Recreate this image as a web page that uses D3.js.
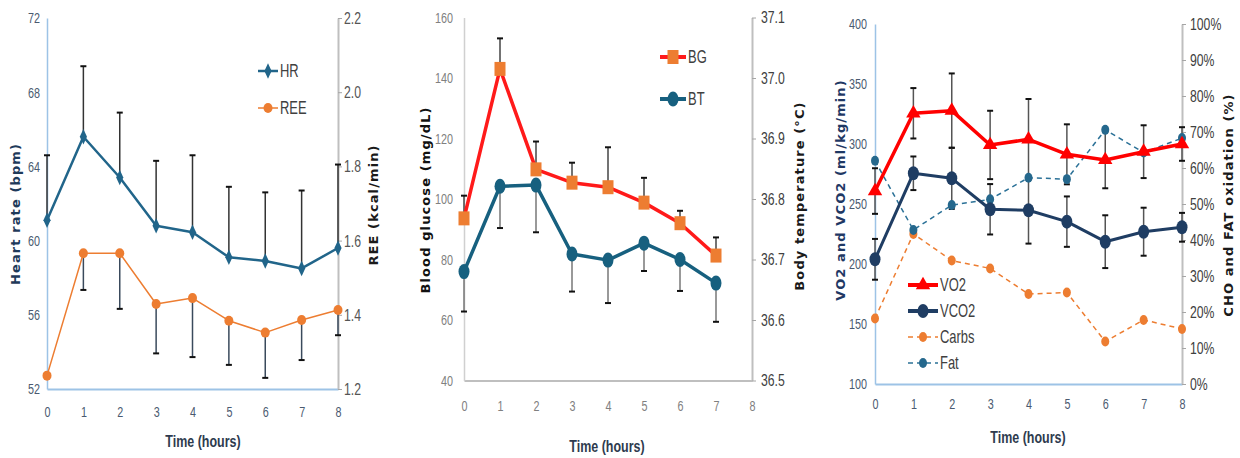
<!DOCTYPE html>
<html lang="en">
<head>
<meta charset="UTF-8" />
<title>Time course</title>
<script src="https://d3js.org/d3.v7.min.js"></script>
<style>
  body { margin: 0; background: #fff; }
  svg text { font-family: 'Liberation Sans', Arial, sans-serif; }
  svg text.ttl { font-family: 'DejaVu Sans', Verdana, sans-serif; font-weight: bold; font-size: 13px; letter-spacing: 1.1px; }
  svg text.xt { font-size: 16px; font-weight: bold; fill: #2e3b4e; }
</style>
</head>
<body>
<svg id="chart" width="1240" height="458"></svg>
<script>
const hours = [0, 1, 2, 3, 4, 5, 6, 7, 8];
const hoursBG = [0, 1, 2, 3, 4, 5, 6, 7];

// panel 1
const hr = [61.1, 65.6, 63.4, 60.8, 60.45, 59.1, 58.9, 58.5, 59.6];
const hrErr = [3.5, 3.8, 3.5, 3.5, 4.15, 3.8, 3.7, 4.2, 4.5];
const ree = [1.236, 1.566, 1.566, 1.429, 1.445, 1.384, 1.352, 1.386, 1.413];
const reeErr = [0, 0.099, 0.15, 0.133, 0.159, 0.119, 0.122, 0.108, 0.068];
const hrTicks = [52, 56, 60, 64, 68, 72];
const reeTicks = [1.2, 1.4, 1.6, 1.8, 2.0, 2.2];

// panel 2
const bg = [93.6, 143.0, 109.8, 105.4, 103.9, 98.8, 92.0, 81.3];
const bgErr = [7.5, 10.1, 9.2, 6.6, 13.2, 8.2, 4.1, 6.0];
const bt = [36.680, 36.821, 36.823, 36.709, 36.699, 36.727, 36.700, 36.661];
const btErr = [0.066, 0.069, 0.078, 0.062, 0.071, 0.046, 0.052, 0.064];
const bgTicks = [40, 60, 80, 100, 120, 140, 160];
const btTicks = [36.5, 36.6, 36.7, 36.8, 36.9, 37.0, 37.1];

// panel 3
const vo2 = [260.8, 325.6, 327.8, 299.2, 303.9, 291.4, 286.7, 293.6, 300.0];
const vo2Err = [19, 21, 31, 28.5, 33.6, 25, 23.6, 22, 14];
const vco2 = [203.9, 275.6, 271.4, 245.6, 244.8, 235.3, 218.6, 226.9, 230.6];
const vco2Err = [17, 14, 25.5, 21, 27.8, 21, 22, 20, 12];
const carbs = [0.182, 0.417, 0.343, 0.321, 0.250, 0.254, 0.118, 0.178, 0.153];
const fat = [0.620, 0.428, 0.497, 0.513, 0.573, 0.569, 0.706, 0.643, 0.683];
const vTicks = [100, 150, 200, 250, 300, 350, 400];
const pctTicks = [0, 0.1, 0.2, 0.3, 0.4, 0.5, 0.6, 0.7, 0.8, 0.9, 1.0];

const svg = d3.select("#chart");
const lightBlue = "#9dc3e6", gray = "#bfbfbf";

// squeeze text horizontally around its anchor (the source uses a narrow font)
function narrow(sel, k) {
  sel.each(function () {
    const t = d3.select(this);
    const x = +t.attr("x") || 0;
    const prev = t.attr("transform") || "";
    t.attr("transform", `${prev} translate(${x},0) scale(${k},1) translate(${-x},0)`);
  });
}

function makePanel(p) {
  const x = d3.scaleLinear().domain([0, 8]).range([p.x0, p.x1]);
  const yL = d3.scaleLinear().domain(p.leftDom).range([p.yB, p.yT]);
  const yR = d3.scaleLinear().domain(p.rightDom).range([p.yB, p.yT]);
  const g = svg.append("g");

  const ax = g.append("g").attr("transform", `translate(0,${p.yB})`)
    .call(d3.axisBottom(x).tickValues(hours).tickSize(0).tickPadding(p.xPad).tickSizeOuter(0));
  ax.select(".domain").attr("stroke", p.bottomColor).attr("stroke-width", 2);
  ax.selectAll("text").attr("font-size", 15).attr("fill", p.tickColor).call(narrow, 0.72);

  const al = g.append("g").attr("transform", `translate(${p.x0},0)`)
    .call(d3.axisLeft(yL).tickValues(p.leftTicks).tickSize(0).tickPadding(p.lPad).tickSizeOuter(0));
  al.select(".domain").attr("stroke", p.leftColor).attr("stroke-width", 1.5);
  al.selectAll("text").attr("font-size", 15).attr("fill", p.tickColor).call(narrow, 0.72);

  const ar = g.append("g").attr("transform", `translate(${p.x1},0)`)
    .call(d3.axisRight(yR).tickValues(p.rightTicks).tickFormat(p.rightFmt).tickSize(4).tickPadding(p.rPad).tickSizeOuter(0));
  ar.select(".domain").attr("stroke", gray).attr("stroke-width", 2);
  ar.selectAll("line").attr("stroke", "#a6a6a6");
  ar.selectAll("text").attr("font-size", 17).attr("fill", p.rTickColor || p.tickColor).call(narrow, 0.72);

  // titles
  g.append("text").attr("class", "ttl")
    .attr("transform", `translate(${p.lTitleX},${p.lTitleY}) rotate(-90)`)
    .attr("text-anchor", "middle").attr("fill", p.lTitleColor).text(p.lTitle);
  g.append("text").attr("class", "ttl")
    .attr("transform", `translate(${p.rTitleX},${p.rTitleY}) rotate(-90)`)
    .attr("text-anchor", "middle").attr("fill", "#1a1a1a").text(p.rTitle);
  g.append("text").attr("class", "xt")
    .attr("x", p.xtX).attr("y", p.xtY).attr("text-anchor", "middle").text("Time (hours)")
    .call(narrow, 0.78);

  return { g, x, yL, yR };
}

function errBars(g, x, y, xs, vals, errs, dir, color) {
  const eg = g.append("g").attr("stroke", color).attr("stroke-width", 1.5);
  xs.forEach((t, i) => {
    if (!errs[i]) return;
    const lo = dir === "down" || dir === "both" ? vals[i] - errs[i] : vals[i];
    const hi = dir === "up" || dir === "both" ? vals[i] + errs[i] : vals[i];
    eg.append("line").attr("x1", x(t)).attr("x2", x(t)).attr("y1", y(lo)).attr("y2", y(hi));
    if (dir !== "up") eg.append("line").attr("x1", x(t) - 3).attr("x2", x(t) + 3)
      .attr("y1", y(lo)).attr("y2", y(lo)).attr("stroke", "#111").attr("stroke-width", 2);
    if (dir !== "down") eg.append("line").attr("x1", x(t) - 3).attr("x2", x(t) + 3)
      .attr("y1", y(hi)).attr("y2", y(hi)).attr("stroke", "#111").attr("stroke-width", 2);
  });
}

function series(g, x, y, xs, vals, s) {
  const line = d3.line().x((d, i) => x(xs[i])).y(d => y(d));
  g.append("path").datum(vals).attr("fill", "none").attr("stroke", s.color)
    .attr("stroke-width", s.width).attr("stroke-dasharray", s.dash || null)
    .attr("stroke-linejoin", "round").attr("d", line);
  vals.forEach((v, i) => marker(g, x(xs[i]), y(v), s));
}

function marker(g, cx, cy, s) {
  if (s.shape === "ellipse") {
    g.append("ellipse").attr("cx", cx).attr("cy", cy).attr("rx", s.rx).attr("ry", s.ry).attr("fill", s.mColor || s.color);
  } else if (s.shape === "rect") {
    g.append("rect").attr("x", cx - s.w / 2).attr("y", cy - s.h / 2).attr("width", s.w).attr("height", s.h).attr("fill", s.mColor);
  } else {
    g.append("path").attr("transform", `translate(${cx},${cy}) scale(${s.sx || 1},1)`)
      .attr("d", d3.symbol().type(s.shape).size(s.size)).attr("fill", s.mColor || s.color);
  }
}

function legendItem(g, x0, x1, y, label, s) {
  g.append("line").attr("x1", x0).attr("x2", x1).attr("y1", y).attr("y2", y)
    .attr("stroke", s.color).attr("stroke-width", s.legW || s.width).attr("stroke-dasharray", s.dash || null);
  marker(g, (x0 + x1) / 2, y, s);
  g.append("text").attr("x", x1 + 2).attr("y", y).attr("dy", "0.35em")
    .attr("font-size", 18).attr("fill", "#404040").text(label).call(narrow, 0.72);
}

// ---- Panel 1: HR and REE
const p1 = makePanel({
  x0: 47, x1: 338, yT: 18, yB: 389, xPad: 17, lPad: 7, rPad: 2,
  leftDom: [52, 72], rightDom: [1.2, 2.2], leftTicks: hrTicks, rightTicks: reeTicks,
  rightFmt: d3.format(".1f"), tickColor: "#4a5a70", rTickColor: "#555",
  leftColor: lightBlue, bottomColor: lightBlue,
  lTitle: "Heart rate (bpm)", lTitleX: 20, lTitleY: 214, lTitleColor: "#1f3a5a",
  rTitle: "REE (kcal/min)", rTitleX: 378, rTitleY: 205, xtX: 203, xtY: 447
});
const hrS = { color: "#21658a", width: 2.5, shape: d3.symbolDiamond, size: 70, sx: 0.8 };
const reeS = { color: "#ed7d31", width: 1.5, shape: "ellipse", rx: 4.5, ry: 5 };
errBars(p1.g, p1.x, p1.yL, hours, hr, hrErr, "up", "#333");
errBars(p1.g, p1.x, p1.yR, hours, ree, reeErr, "down", "#3a4a5c");
series(p1.g, p1.x, p1.yL, hours, hr, hrS);
series(p1.g, p1.x, p1.yR, hours, ree, reeS);
legendItem(p1.g, 258, 278, 71, "HR", hrS);
legendItem(p1.g, 258, 278, 108, "REE", reeS);

// ---- Panel 2: BG and BT
const p2 = makePanel({
  x0: 464, x1: 752, yT: 17.5, yB: 380.5, xPad: 20, lPad: 11, rPad: 5,
  leftDom: [40, 160], rightDom: [36.5, 37.1], leftTicks: bgTicks, rightTicks: btTicks,
  rightFmt: d3.format(".1f"), tickColor: "#808080", rTickColor: "#404040",
  leftColor: "#d0d0d0", bottomColor: gray,
  lTitle: "Blood glucose (mg/dL)", lTitleX: 430, lTitleY: 200, lTitleColor: "#111",
  rTitle: "Body temperature (°C)", rTitleX: 804, rTitleY: 196, xtX: 607, xtY: 452
});
const bgS = { color: "#ff1a1a", width: 3.5, legW: 4, shape: "rect", w: 11, h: 14, mColor: "#ed7d31" };
const btS = { color: "#17607f", width: 3.5, legW: 4, shape: "ellipse", rx: 5.5, ry: 7.5 };
errBars(p2.g, p2.x, p2.yL, hoursBG, bg, bgErr, "up", "#444");
errBars(p2.g, p2.x, p2.yR, hoursBG, bt, btErr, "down", "#777");
series(p2.g, p2.x, p2.yL, hoursBG, bg, bgS);
series(p2.g, p2.x, p2.yR, hoursBG, bt, btS);
legendItem(p2.g, 660, 686, 57, "BG", bgS);
legendItem(p2.g, 660, 686, 99, "BT", btS);

// ---- Panel 3: VO2, VCO2, substrate oxidation
const p3 = makePanel({
  x0: 875, x1: 1182, yT: 24, yB: 384, xPad: 14, lPad: 8, rPad: 4,
  leftDom: [100, 400], rightDom: [0, 1], leftTicks: vTicks, rightTicks: pctTicks,
  rightFmt: d3.format(".0%"), tickColor: "#4a5a70", rTickColor: "#404040",
  leftColor: lightBlue, bottomColor: lightBlue,
  lTitle: "VO2 and VCO2 (ml/kg/min)", lTitleX: 845, lTitleY: 190, lTitleColor: "#1f3864",
  rTitle: "CHO and FAT oxidation (%)", rTitleX: 1233, rTitleY: 205, xtX: 1028, xtY: 443
});
const vo2S = { color: "#ff0000", width: 3.5, legW: 4, shape: d3.symbolTriangle, size: 90 };
const vco2S = { color: "#1f3d63", width: 3, legW: 4, shape: "ellipse", rx: 5.5, ry: 7 };
const carbS = { color: "#ed7d31", width: 1.5, dash: "5,4", shape: "ellipse", rx: 4, ry: 5 };
const fatS = { color: "#2b7197", width: 1.5, dash: "5,4", shape: "ellipse", rx: 4, ry: 5, mColor: "#25688d" };
errBars(p3.g, p3.x, p3.yL, hours, vo2, vo2Err, "both", "#555");
errBars(p3.g, p3.x, p3.yL, hours, vco2, vco2Err, "both", "#555");
series(p3.g, p3.x, p3.yR, hours, carbs, carbS);
series(p3.g, p3.x, p3.yR, hours, fat, fatS);
series(p3.g, p3.x, p3.yL, hours, vco2, vco2S);
series(p3.g, p3.x, p3.yL, hours, vo2, vo2S);
legendItem(p3.g, 908, 938, 285, "VO2", vo2S);
legendItem(p3.g, 908, 938, 311, "VCO2", vco2S);
legendItem(p3.g, 908, 938, 337, "Carbs", carbS);
legendItem(p3.g, 908, 938, 363, "Fat", fatS);
</script>
</body>
</html>
